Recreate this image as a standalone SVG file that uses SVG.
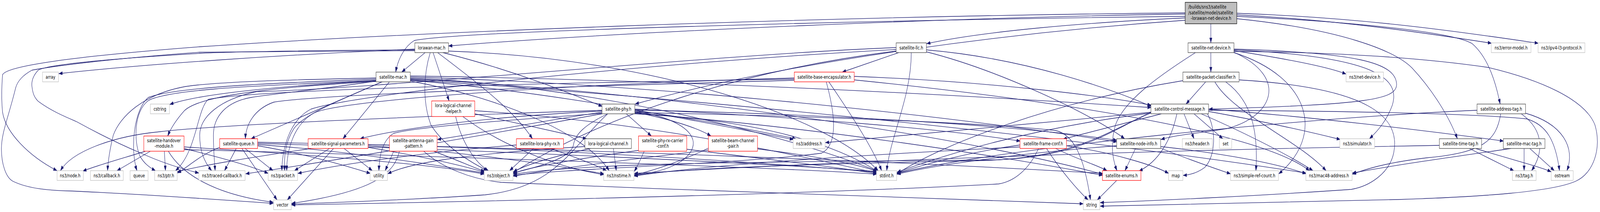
<svg xmlns="http://www.w3.org/2000/svg" width="5608" height="544" viewBox="0 0 5608 544" preserveAspectRatio="none">
<style>
svg{width:100vw;height:100vh}
text{font-family:"DejaVu Sans","Liberation Sans",sans-serif;font-size:13px;text-anchor:middle;fill:#000}
text.l{text-anchor:start}
.g{fill:#fff;stroke:#bfbfbf;stroke-width:1.3}
.b{fill:#fff;stroke:#404040;stroke-width:1.3}
.r{fill:#fff;stroke:#ff0000;stroke-width:1.3}
.rt{fill:#bfbfbf;stroke:#000;stroke-width:1.3}
#edges path{fill:none;stroke:#191970;stroke-width:1.3;marker-end:url(#arr)}
</style>
<defs>
<marker id="arr" markerUnits="userSpaceOnUse" markerWidth="13" markerHeight="9" refX="13" refY="4.5" orient="auto" viewBox="0 0 13 9"><path d="M0,0 L13,4.5 L0,9 z" fill="#191970" stroke="#191970" stroke-width="0.5"/></marker>
</defs>
<rect x="0" y="0" width="5608" height="544" fill="#fff"/>
<g id="edges">
<path d="M4244,61 L4244,110"/>
<path d="M4154,36 C3400,44 2200,80 1572,118"/>
<path d="M4154,46 C3800,58 3450,80 3248,112"/>
<path d="M4154,42 C3000,52 1600,80 1452,104 C1420,118 1395,150 1387,185"/>
<path d="M4154,52 C3600,80 2800,150 2226,267"/>
<path d="M4335,38 C4700,52 5000,85 5228,111"/>
<path d="M4335,34 C4800,46 5150,85 5392,111"/>
<path d="M4335,42 C4800,58 5100,85 5160,112 C5220,150 5245,220 5258,267"/>
<path d="M4335,48 C4700,75 4890,130 4950,175 C5020,230 5080,300 5108,356"/>
<path d="M4154,33 C2800,42 1400,85 700,120 C250,145 20,170 9,192 C5,230 5,260 9,288 C20,340 100,400 200,438"/>
<path d="M4244,135 L4244,185"/>
<path d="M4325,130 C4500,150 4650,170 4718,190"/>
<path d="M4325,126 C4750,135 4890,160 4895,215 C4898,255 4800,268 4237,280"/>
<path d="M4325,128 C4820,145 4910,200 4880,270 C4860,310 4830,335 4800,356"/>
<path d="M4325,132 C4700,134 5000,150 5216,173 C5400,205 5555,255 5590,320 C5615,380 5585,445 5523,465 C5440,492 5200,505 4900,512 C4500,519 4100,526 3856,529"/>
<path d="M4190,135 C4050,200 3940,260 3910,320 C3890,370 3900,410 3915,438"/>
<path d="M4325,134 C4520,200 4460,300 4300,330 C4200,342 4120,346 4069,358"/>
<path d="M4325,135 C4600,200 4640,350 4482,446"/>
<path d="M4226,210 L4157,267"/>
<path d="M4258,210 C4320,290 4550,360 4648,438"/>
<path d="M4296,210 C4390,260 4410,340 4402,438"/>
<path d="M4146,207 C3700,260 3300,370 3144,446"/>
<path d="M4343,205 C4800,225 4910,300 4885,392 C4870,445 4800,478 4736,486 C4400,503 4050,515 3856,520"/>
<path d="M4071,292 L3726,357"/>
<path d="M4034,288 C3600,320 3100,350 2893,366"/>
<path d="M4150,292 L4185,356"/>
<path d="M4185,292 L4286,356"/>
<path d="M4236,286 C4420,310 4600,340 4698,358"/>
<path d="M4125,292 C4105,360 4060,415 3992,439"/>
<path d="M4232,292 C4262,330 4263,400 4222,430 C4192,446 4166,449 4147,450"/>
<path d="M4210,292 C4330,330 4500,390 4602,438"/>
<path d="M4034,290 C3600,330 3300,400 3144,442"/>
<path d="M4034,290 C3900,330 3800,400 3500,410 C2800,416 2100,414 1799,447"/>
<path d="M4034,288 C3880,340 3760,405 3450,412 C2900,420 2400,430 2223,450"/>
<path d="M4236,280 C4600,300 5000,335 5270,362"/>
<path d="M4236,283 C4700,285 5150,290 5351,305 C5420,320 5452,360 5466,438"/>
<path d="M3980,381 L3943,438"/>
<path d="M4068,376 C4300,395 4480,420 4578,446"/>
<path d="M4068,380 C4150,405 4250,430 4313,446"/>
<path d="M3914,374 C3600,392 3300,420 3144,447"/>
<path d="M3700,381 C3780,410 3850,425 3880,438"/>
<path d="M3668,381 C3720,440 3780,490 3814,513"/>
<path d="M3738,374 C3900,392 4050,425 4096,445"/>
<path d="M3575,372 C3400,390 3250,420 3144,444"/>
<path d="M3575,377 C3100,395 2500,420 2223,452"/>
<path d="M3640,381 C3610,430 3560,465 3500,472 C2800,500 1600,518 1022,526"/>
<path d="M3914,463 L3846,513"/>
<path d="M3150,135 L2952,185"/>
<path d="M3194,135 C3194,250 3120,350 3108,438"/>
<path d="M3247,128 C3600,150 3900,230 4035,273"/>
<path d="M3247,133 C3500,180 3820,290 3942,356"/>
<path d="M3141,131 C2600,180 2100,300 1799,443"/>
<path d="M3141,122 C2500,140 1300,230 900,235 C770,255 700,300 700,347 C700,390 718,418 742,438"/>
<path d="M3141,127 C2300,160 1250,240 1090,280 C1010,310 988,390 988,438"/>
<path d="M2784,206 C2000,222 1150,240 960,262 C890,280 862,320 860,356"/>
<path d="M2905,210 C2980,290 3060,380 3090,438"/>
<path d="M2896,210 C2930,300 2935,372 2880,393 C2600,420 2000,432 1799,450"/>
<path d="M2784,203 C2000,212 900,228 730,255 C690,280 690,390 615,438"/>
<path d="M2784,200 C2000,216 1200,255 1100,290 C1025,322 1005,390 1005,438"/>
<path d="M2994,196 C3500,210 3900,250 4035,270"/>
<path d="M2994,205 C3600,250 4400,330 4590,438"/>
<path d="M1490,135 L1408,185"/>
<path d="M1518,135 L1574,259"/>
<path d="M1534,135 C1650,200 1800,280 1866,356"/>
<path d="M1552,135 C1800,180 2000,240 2111,273"/>
<path d="M1508,135 C1485,190 1480,260 1510,320 C1560,380 1660,420 1708,438"/>
<path d="M1454,126 C1000,140 500,165 206,189"/>
<path d="M1454,130 C1100,131 800,132 700,134 C400,150 200,168 112,180 C75,195 60,212 55,225 C30,300 5,340 5,382 C5,420 20,455 45,465 C100,485 180,489 245,490 C500,498 800,514 958,522"/>
<path d="M1454,128 C1100,129 800,133 700,137 C400,150 170,165 134,180 C115,195 110,210 112,222 C115,240 120,250 134,260 C180,285 230,300 268,312 C350,345 420,370 491,392 C560,415 630,432 697,444"/>
<path d="M1572,131 C2300,150 2900,300 3078,438"/>
<path d="M1318,207 C1000,220 700,240 595,268"/>
<path d="M1318,209 C900,226 690,250 645,285 C615,310 598,330 588,349"/>
<path d="M1338,210 L880,356"/>
<path d="M1365,210 L1202,356"/>
<path d="M1318,200 C1000,205 760,210 650,222 C500,242 420,300 397,347 C386,380 379,410 377,438"/>
<path d="M1318,203 C1000,212 620,222 520,250 C470,280 455,380 480,438"/>
<path d="M1318,206 C1000,218 600,225 520,258 C470,285 468,360 490,400 C505,420 525,430 545,438"/>
<path d="M1318,208 C1100,232 960,240 880,250 C790,262 748,300 748,347 C748,390 752,415 754,438"/>
<path d="M1340,210 C1200,255 1070,290 1030,330 C1000,365 995,400 998,438"/>
<path d="M1438,201 C2000,215 2700,330 3076,439"/>
<path d="M1438,203 C2200,228 3300,335 3865,447"/>
<path d="M1438,198 C2300,215 3300,295 3915,364"/>
<path d="M1438,195 C2400,205 3400,245 4035,276"/>
<path d="M1438,205 C2500,255 3800,355 4578,444"/>
<path d="M1438,208 C1750,250 2050,340 2135,438"/>
<path d="M1438,206 C2000,240 2500,320 2781,358"/>
<path d="M1664,292 L2056,356"/>
<path d="M1597,299 C1620,370 1670,420 1712,438"/>
<path d="M1622,299 C1750,370 1950,430 2117,448"/>
<path d="M1664,284 C2300,315 2800,400 3073,444"/>
<path d="M1870,381 L1786,438"/>
<path d="M1810,372 C1500,390 1200,420 1044,445"/>
<path d="M1930,381 C2000,400 2080,420 2126,438"/>
<path d="M2070,381 C1950,400 1850,420 1799,441"/>
<path d="M2150,381 L2160,438"/>
<path d="M2050,376 C1700,392 1450,412 1359,446"/>
<path d="M2258,388 C2245,410 2235,425 2223,440"/>
<path d="M2238,386 C2000,410 1850,430 1799,445"/>
<path d="M2407,383 C2700,410 2950,430 3073,446"/>
<path d="M2483,380 C2400,410 2300,436 2223,449"/>
<path d="M2655,382 C2850,400 3000,420 3075,440"/>
<path d="M2483,385 C2200,410 1950,432 1799,452"/>
<path d="M2195,292 L2283,349"/>
<path d="M2225,288 C2350,305 2450,330 2492,349"/>
<path d="M2225,284 C2450,305 2680,340 2790,356"/>
<path d="M2225,280 C2800,300 3300,330 3576,362"/>
<path d="M2225,286 C2350,298 2425,330 2430,365 C2433,405 2350,442 2223,448"/>
<path d="M2110,285 C1700,300 1400,330 1262,356"/>
<path d="M2110,288 C1900,310 1700,340 1533,358"/>
<path d="M2130,292 C2050,320 2015,345 2010,372 C2000,410 1860,432 1799,444"/>
<path d="M2110,291 C1700,312 1450,328 1380,342 C1345,358 1330,390 1328,438"/>
<path d="M2225,290 C2900,330 3500,400 3865,450"/>
<path d="M2225,282 C3000,295 3600,325 3915,360"/>
<path d="M2225,292 C2700,310 2950,380 3076,440"/>
<path d="M2130,292 C2000,380 1950,480 1700,500 C1400,515 1100,521 1022,524"/>
<path d="M2225,289 C2900,298 3500,318 3700,335 C3762,345 3800,400 3822,513"/>
<path d="M2110,283 C1500,298 800,318 560,338 C390,350 250,390 212,438"/>
<path d="M2110,292 C1600,360 1100,420 861,446"/>
<path d="M1380,388 L1350,438"/>
<path d="M1400,388 C1380,450 1300,492 1022,522"/>
<path d="M1520,388 C1600,410 1660,430 1699,440"/>
<path d="M1485,388 C1550,430 1650,460 1757,468 C2500,492 3400,510 3797,523"/>
<path d="M1090,381 C900,402 720,422 621,441"/>
<path d="M1155,381 L1032,438"/>
<path d="M1169,381 L1007,513"/>
<path d="M1206,381 L1305,438"/>
<path d="M1290,378 C1450,398 1600,420 1698,442"/>
<path d="M1290,374 C1600,388 1900,418 2117,446"/>
<path d="M1290,371 C2000,384 2700,418 3073,442"/>
<path d="M770,378 C700,398 660,428 622,444"/>
<path d="M828,381 L787,438"/>
<path d="M848,381 L971,513"/>
<path d="M859,381 L957,438"/>
<path d="M903,374 C1050,392 1200,422 1298,445"/>
<path d="M903,371 C1200,386 1500,420 1698,444"/>
<path d="M903,368 C1800,388 2700,420 3073,440"/>
<path d="M903,365 C2000,380 3300,420 3865,445"/>
<path d="M510,388 C450,402 350,422 290,439"/>
<path d="M527,388 L410,438"/>
<path d="M576,388 L580,438"/>
<path d="M645,381 C750,400 880,425 940,445"/>
<path d="M645,377 C1000,393 1500,418 1697,447"/>
<path d="M645,384 C1500,400 2700,428 3073,447"/>
<path d="M590,388 C640,450 760,500 958,519"/>
<path d="M5342,381 L5342,438"/>
<path d="M5362,381 L5448,438"/>
<path d="M5296,381 C5100,402 4900,422 4740,444"/>
<path d="M5150,381 L5306,438"/>
<path d="M5172,381 C5300,410 5400,428 5437,441"/>
<path d="M5045,373 C4000,386 3000,412 2223,445"/>
<path d="M5332,292 C5420,338 5405,398 5368,438"/>
<path d="M5345,290 C5480,318 5522,380 5492,438"/>
<path d="M5260,292 C5245,360 5200,392 5000,405 C4850,418 4780,436 4740,447"/>
<path d="M5177,283 C4600,300 3500,380 3144,445"/>
</g>
<g id="node-root"><rect class="rt" x="4154" y="6" width="181" height="55"/><text class="l" x="4165" y="22">/builds/sns3/satellite</text><text class="l" x="4165" y="37">/satellite/model/satellite</text><text x="4244.5" y="51">-lorawan-net-device.h</text></g>
<g id="node-lorawan-mac"><rect class="b" x="1454" y="110" width="118" height="25"/><text x="1513" y="127">lorawan-mac.h</text></g>
<g id="node-satellite-llc"><rect class="b" x="3141" y="110" width="106" height="25"/><text x="3194" y="127">satellite-llc.h</text></g>
<g id="node-satellite-net-device"><rect class="b" x="4164" y="110" width="161" height="25"/><text x="4244.5" y="127">satellite-net-device.h</text></g>
<g id="node-error-model"><rect class="g" x="5227" y="110" width="139" height="25"/><text x="5296.5" y="127">ns3/error-model.h</text></g>
<g id="node-ipv4"><rect class="g" x="5391" y="110" width="164" height="25"/><text x="5473" y="127">ns3/ipv4-l3-protocol.h</text></g>
<g id="node-array"><rect class="g" x="149" y="185" width="56" height="25"/><text x="177" y="202">array</text></g>
<g id="node-satellite-mac"><rect class="b" x="1318" y="185" width="120" height="25"/><text x="1378" y="202">satellite-mac.h</text></g>
<g id="node-base-encapsulator"><rect class="r" x="2784" y="185" width="210" height="25"/><text x="2889" y="202">satellite-base-encapsulator.h</text></g>
<g id="node-packet-classifier"><rect class="b" x="4146" y="185" width="197" height="25"/><text x="4244.5" y="202">satellite-packet-classifier.h</text></g>
<g id="node-net-device"><rect class="g" x="4718" y="185" width="131" height="25"/><text x="4783.5" y="202">ns3/net-device.h</text></g>
<g id="node-cstring"><rect class="g" x="527" y="267" width="67" height="25"/><text x="560.5" y="284">cstring</text></g>
<g id="node-lora-logical-channel-helper"><rect class="r" x="1513" y="259" width="151" height="40"/><text x="1588.5" y="275.5">lora-logical-channel</text><text x="1588.5" y="290">-helper.h</text></g>
<g id="node-satellite-phy"><rect class="b" x="2110" y="267" width="115" height="25"/><text x="2167.5" y="284">satellite-phy.h</text></g>
<g id="node-control-message"><rect class="b" x="4034" y="267" width="202" height="25"/><text x="4135" y="284">satellite-control-message.h</text></g>
<g id="node-address-tag"><rect class="b" x="5177" y="267" width="170" height="25"/><text x="5262" y="284">satellite-address-tag.h</text></g>
<g id="node-handover"><rect class="r" x="504" y="349" width="141" height="39"/><text x="574.5" y="365.5">satellite-handover</text><text x="574.5" y="379.5">-module.h</text></g>
<g id="node-queue-h"><rect class="r" x="770" y="356" width="133" height="25"/><text x="836.5" y="373">satellite-queue.h</text></g>
<g id="node-signal-parameters"><rect class="r" x="1080" y="356" width="210" height="25"/><text x="1185" y="373">satellite-signal-parameters.h</text></g>
<g id="node-antenna"><rect class="r" x="1365" y="349" width="167" height="39"/><text x="1448.5" y="365.5">satellite-antenna-gain</text><text x="1448.5" y="379.5">-pattern.h</text></g>
<g id="node-lora-phy-rx"><rect class="r" x="1810" y="356" width="165" height="25"/><text x="1892.5" y="373">satellite-lora-phy-rx.h</text></g>
<g id="node-lora-logical-channel"><rect class="b" x="2050" y="356" width="163" height="25"/><text x="2131.5" y="373">lora-logical-channel.h</text></g>
<g id="node-phy-rx-carrier-conf"><rect class="r" x="2238" y="349" width="169" height="39"/><text x="2322.5" y="365.5">satellite-phy-rx-carrier</text><text x="2322.5" y="379.5">-conf.h</text></g>
<g id="node-beam-channel-pair"><rect class="r" x="2483" y="349" width="172" height="39"/><text x="2569" y="365.5">satellite-beam-channel</text><text x="2569" y="379.5">-pair.h</text></g>
<g id="node-address"><rect class="g" x="2780" y="356" width="112" height="25"/><text x="2836" y="373">ns3/address.h</text></g>
<g id="node-frame-conf"><rect class="r" x="3575" y="356" width="163" height="25"/><text x="3656.5" y="373">satellite-frame-conf.h</text></g>
<g id="node-node-info"><rect class="b" x="3914" y="356" width="154" height="25"/><text x="3991" y="373">satellite-node-info.h</text></g>
<g id="node-header"><rect class="g" x="4144" y="356" width="105" height="25"/><text x="4196.5" y="373">ns3/header.h</text></g>
<g id="node-set"><rect class="g" x="4274" y="356" width="43" height="25"/><text x="4295.5" y="373">set</text></g>
<g id="node-simulator"><rect class="g" x="4696" y="356" width="122" height="25"/><text x="4757" y="373">ns3/simulator.h</text></g>
<g id="node-time-tag"><rect class="b" x="5045" y="356" width="148" height="25"/><text x="5119" y="373">satellite-time-tag.h</text></g>
<g id="node-mac-tag"><rect class="b" x="5269" y="356" width="146" height="25"/><text x="5342" y="373">satellite-mac-tag.h</text></g>
<g id="node-node"><rect class="g" x="200" y="438" width="92" height="25"/><text x="246" y="455">ns3/node.h</text></g>
<g id="node-callback"><rect class="g" x="317" y="438" width="115" height="25"/><text x="374.5" y="455">ns3/callback.h</text></g>
<g id="node-queue"><rect class="g" x="456" y="438" width="63" height="25"/><text x="487.5" y="455">queue</text></g>
<g id="node-ptr"><rect class="g" x="542" y="438" width="79" height="25"/><text x="581.5" y="455">ns3/ptr.h</text></g>
<g id="node-traced-callback"><rect class="g" x="697" y="438" width="162" height="25"/><text x="778" y="455">ns3/traced-callback.h</text></g>
<g id="node-packet"><rect class="g" x="940" y="438" width="103" height="25"/><text x="991.5" y="455">ns3/packet.h</text></g>
<g id="node-utility"><rect class="g" x="1297" y="438" width="61" height="25"/><text x="1327.5" y="455">utility</text></g>
<g id="node-object"><rect class="g" x="1697" y="438" width="101" height="25"/><text x="1747.5" y="455">ns3/object.h</text></g>
<g id="node-nstime"><rect class="g" x="2116" y="438" width="106" height="25"/><text x="2169" y="455">ns3/nstime.h</text></g>
<g id="node-stdint"><rect class="g" x="3072" y="438" width="71" height="25"/><text x="3107.5" y="455">stdint.h</text></g>
<g id="node-enums"><rect class="r" x="3864" y="438" width="135" height="25"/><text x="3931.5" y="455">satellite-enums.h</text></g>
<g id="node-map"><rect class="g" x="4096" y="438" width="50" height="25"/><text x="4121" y="455">map</text></g>
<g id="node-simple-ref-count"><rect class="g" x="4313" y="438" width="168" height="25"/><text x="4397" y="455">ns3/simple-ref-count.h</text></g>
<g id="node-mac48-address"><rect class="g" x="4577" y="438" width="162" height="25"/><text x="4658" y="455">ns3/mac48-address.h</text></g>
<g id="node-tag"><rect class="g" x="5301" y="438" width="83" height="25"/><text x="5342.5" y="455">ns3/tag.h</text></g>
<g id="node-ostream"><rect class="g" x="5437" y="438" width="77" height="25"/><text x="5475.5" y="455">ostream</text></g>
<g id="node-vector"><rect class="g" x="959" y="513" width="62" height="25"/><text x="990" y="530">vector</text></g>
<g id="node-string"><rect class="g" x="3797" y="513" width="58" height="25"/><text x="3826" y="530">string</text></g>
</svg>
